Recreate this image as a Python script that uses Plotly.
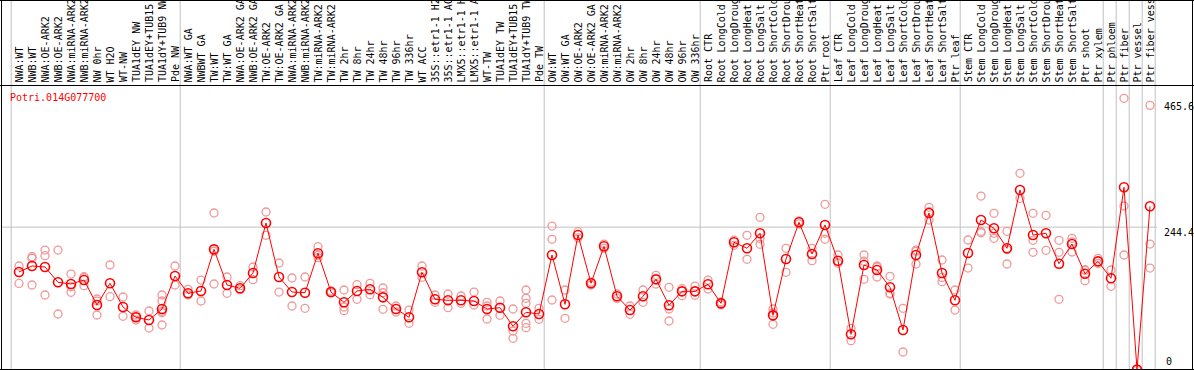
import plotly.graph_objects as go

gene = "Potri.014G077700"

samples = [
    "NWA:WT", "NWB:WT", "NWA:OE-ARK2", "NWB:OE-ARK2", "NWA:miRNA-ARK2", "NWB:miRNA-ARK2",
    "NW 0hr", "WT H2O", "WT-NW", "TUA1dEY NW", "TUA1dEY+TUB15 NW", "TUA1dY+TUB9 NW", "Pde NW",
    "NWA:WT GA", "NWBWT GA", "TW:WT", "TW:WT GA", "NWA:OE-ARK2 GA", "NWB:OE-ARK2 GA",
    "TW:OE-ARK2", "TW:OE-ARK2 GA", "NWA:miRNA-ARK2", "NWB:miRNA-ARK2", "TW:miRNA-ARK2",
    "TW:miRNA-ARK2", "TW 2hr", "TW 8hr", "TW 24hr", "TW 48hr", "TW 96hr", "TW 336hr",
    "WT ACC", "35S::etr1-1 H2O", "35S::etr1-1 ACC", "LMX5::etr1-1 H2O", "LMX5::etr1-1 ACC",
    "WT-TW", "TUA1dEY TW", "TUA1dEY+TUB15 TW", "TUA1dY+TUB9 TW", "Pde TW",
    "OW:WT", "OW:WT GA", "OW:OE-ARK2", "OW:OE-ARK2 GA", "OW:miRNA-ARK2", "OW:miRNA-ARK2",
    "OW 2hr", "OW 8hr", "OW 24hr", "OW 48hr", "OW 96hr", "OW 336hr",
    "Root CTR", "Root LongCold", "Root LongDrought", "Root LongHeat", "Root LongSalt",
    "Root ShortCold", "Root ShortDrought", "Root ShortHeat", "Root ShortSalt", "Ptr root",
    "Leaf CTR", "Leaf LongCold", "Leaf LongDrought", "Leaf LongHeat", "Leaf LongSalt",
    "Leaf ShortCold", "Leaf ShortDrought", "Leaf ShortHeat", "Leaf ShortSalt", "Ptr leaf",
    "Stem CTR", "Stem LongCold", "Stem LongDrought", "Stem LongHeat", "Stem LongSalt",
    "Stem ShortCold", "Stem ShortDrought", "Stem ShortHeat", "Stem ShortSalt", "Ptr shoot",
    "Ptr xylem", "Ptr phloem", "Ptr fiber", "Ptr vessel", "Ptr fiber vessel",
]

group_sizes = [13, 28, 12, 10, 10, 11, 1, 1, 1, 1]

means = [
    167.4, 177.7, 176.0, 149.7, 146.8, 153.6, 110.7, 148.0, 107.3, 89.6, 85.0, 103.9, 160.5,
    130.8, 134.8, 206.3, 145.1, 139.4, 165.7, 251.5, 158.8, 133.0, 131.8, 199.5, 133.0,
    115.4, 134.8, 137.7, 123.9, 103.9, 89.6, 166.9, 120.5, 118.8, 118.8, 117.6, 103.9,
    106.1, 74.2, 98.2, 95.3,
    196.6, 111.9, 230.9, 148.0, 211.5, 125.7, 102.1, 125.7, 154.8, 110.2, 134.2, 134.2,
    146.3, 113.6, 218.4, 208.1, 233.8, 93.0, 189.7, 252.7, 198.3, 248.1,
    186.8, 60.4, 179.4, 170.8, 141.1, 67.8, 196.6, 268.7, 165.7, 118.8,
    200.0, 256.6, 242.4, 208.1, 308.1, 230.9, 233.8, 181.6, 215.4, 164.5, 185.7,
    156.6, 312.8, 0.0, 280.2,
]

replicates = [
    [177.7, 147.7], [193.6, 190.9, 145.1], [205.1, 195.4, 127.9], [205.1, 95.3],
    [163.9, 142.1, 132.5], [157.6, 143.9, 159.3], [121.0, 93.6, 117.5], [179.4, 125.0],
    [124.5, 91.3], [93.6, 85.0, 90.0], [100.4, 71.2], [127.9, 117.6, 97.5, 76.4, 100.0],
    [177.7, 145.1],
    [137.7, 127.9], [153.6, 117.6], [268.7, 146.8, 203.0], [158.8, 130.8], [143.9, 137.0],
    [176.0, 154.2], [270.4, 230.4], [182.8, 133.0], [157.1, 109.0], [158.8, 105.1],
    [210.8, 191.9, 196.0], [134.8, 131.5], [136.5, 107.3, 100.9], [145.6, 120.5],
    [148.0, 128.4], [139.9, 131.8, 103.3], [109.0, 98.7], [102.1, 79.3], [177.7, 158.3],
    [127.9, 115.4], [129.6, 106.1], [126.2, 113.6], [133.0, 110.7], [115.4, 86.7, 109.0],
    [117.6, 93.0], [103.9, 66.1, 53.6], [136.5, 122.2, 113.6, 79.3, 71.8], [105.1, 86.2],
    [246.3, 223.5, 119.3], [136.5, 87.9], [236.6, 226.0], [145.1, 150.0], [215.4, 208.0],
    [129.6, 122.0], [109.0, 94.8], [136.5, 115.4], [161.7, 146.8], [141.1, 103.9, 83.3],
    [138.7, 126.7], [143.3, 127.4],
    [153.6, 138.2], [115.9, 111.0], [213.2, 222.0], [230.4, 189.2], [261.3, 214.9, 225.0],
    [103.9, 77.6, 97.0], [208.1, 166.9], [254.9, 250.0], [208.1, 186.8],
    [283.6, 233.8, 223.5],
    [196.6, 182.3], [70.7, 49.4], [196.6, 154.8, 186.0], [177.7, 158.8, 176.0],
    [160.0, 131.0, 129.6], [105.1, 30.0], [205.1, 181.1, 203.0], [278.4, 256.6, 271.0],
    [188.0, 150.7, 158.0], [136.5, 102.1],
    [222.3, 174.2], [297.8, 234.8, 237.0], [268.1, 225.2, 234.0], [237.2, 181.1, 206.0],
    [336.8, 293.9], [268.1, 221.8, 201.2], [264.7, 204.6], [221.8, 201.2, 120.5],
    [225.2, 201.7, 219.0], [171.3, 152.4, 170.0], [190.9, 182.0],
    [170.8, 142.8], [465.6, 280.7, 196.6], [0.0, 0.0, 0.0], [453.5, 215.4, 174.2],
]

y_ticks = [465.6, 244.4, 0]
grid_value = 244.4

# ---------------- layout helpers (pixel geometry of the page) ----------------
W, H = 1194, 370
X0, STEP = 19.0, 13.0            # pixel x of first sample, spacing
Y_ZERO, Y_SCALE = 369.5, 0.5825  # pixel y of value 0, pixels per unit


def py(p):
    return (H - p) / H


def pxx(p):
    return p / W


FONT = "DejaVu Sans Mono"
GRAY = "#C0C0C0"
RED = "#FF0000"
PINK = "#F09898"

idx = list(range(len(samples)))

rx, ry = [], []
for i, reps in enumerate(replicates):
    for v in reps:
        rx.append(i)
        ry.append(v)

fig = go.Figure()
fig.add_trace(go.Scatter(
    x=rx, y=ry, mode="markers",
    marker=dict(symbol="circle-open", size=8, color=PINK, line=dict(width=1.3, color=PINK)),
    hoverinfo="skip", showlegend=False, cliponaxis=True,
))
fig.add_trace(go.Scatter(
    x=idx, y=means, mode="lines+markers",
    line=dict(color=RED, width=1),
    marker=dict(symbol="circle-open", size=9, color=RED, line=dict(width=1.6, color=RED)),
    text=samples, hoverinfo="text+y", showlegend=False, cliponaxis=True,
))

shapes = []
# group separators
bounds = [-1]
acc = -1
for g in group_sizes:
    acc += g
    bounds.append(acc)
for b in bounds:
    shapes.append(dict(type="line", xref="x", yref="paper", x0=b + 0.4, x1=b + 0.4,
                       y0=0, y1=1, line=dict(color=GRAY, width=1), layer="below"))
# horizontal grid line
shapes.append(dict(type="line", xref="paper", yref="y", x0=pxx(1), x1=pxx(1157),
                   y0=grid_value, y1=grid_value, line=dict(color=GRAY, width=1), layer="below"))
# black frame lines
for yy in [0.5, 85.5, 369.5]:
    shapes.append(dict(type="line", xref="paper", yref="paper", x0=0, x1=1,
                       y0=py(yy), y1=py(yy), line=dict(color="black", width=1)))
for xx in [1.5, 1192.5]:
    shapes.append(dict(type="line", xref="paper", yref="paper", x0=pxx(xx), x1=pxx(xx),
                       y0=0, y1=1, line=dict(color="black", width=1)))

annotations = []
for i, s in enumerate(samples):
    annotations.append(dict(
        x=i, xref="x", y=py(83.5), yref="paper", text=s, showarrow=False,
        textangle=-90, xanchor="center", yanchor="bottom", borderpad=0,
        font=dict(family=FONT, size=10, color="black"),
    ))
annotations.append(dict(
    x=pxx(9), xref="paper", y=py(97), yref="paper", text=gene, showarrow=False,
    xanchor="left", yanchor="middle", borderpad=0,
    font=dict(family=FONT, size=10, color=RED),
))
tick_centers = [106.7, 232.7, 361.7]
tick_lefts = [1163, 1163, 1165]
for t, c, lx in zip(y_ticks, tick_centers, tick_lefts):
    annotations.append(dict(
        x=pxx(lx), xref="paper", y=py(c), yref="paper", text=str(t), showarrow=False,
        xanchor="left", yanchor="middle", borderpad=0,
        font=dict(family=FONT, size=10, color="black"),
    ))

fig.update_layout(
    width=W, height=H,
    margin=dict(l=0, r=0, t=0, b=0),
    paper_bgcolor="white", plot_bgcolor="white",
    xaxis=dict(range=[(0 - X0) / STEP, (W - X0) / STEP], visible=False,
               showgrid=False, zeroline=False, domain=[0, 1]),
    yaxis=dict(range=[(Y_ZERO - H) / Y_SCALE, Y_ZERO / Y_SCALE], visible=False,
               showgrid=False, zeroline=False, domain=[0, 1]),
    shapes=shapes,
    annotations=annotations,
    showlegend=False,
)

fig.write_html(
    "out.html",
    config={"displayModeBar": False},
    post_script="document.body.style.margin='0';document.body.style.overflow='hidden';",
)
